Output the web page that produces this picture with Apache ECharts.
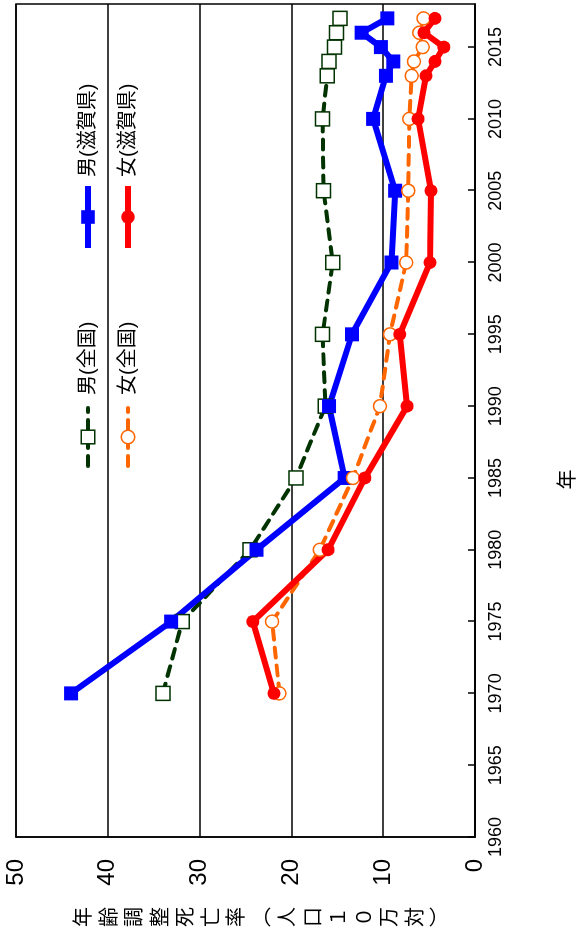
<!DOCTYPE html>
<html>
<head>
<meta charset="utf-8">
<script src="https://cdn.jsdelivr.net/npm/echarts@6/dist/echarts.min.js"></script>
<style>
  html, body { margin: 0; padding: 0; background: #fff; overflow: hidden; }
  #wrap { position: absolute; left: 0; top: 0; width: 584px; height: 940px; overflow: hidden; }
  #chart { position: absolute; left: 0; top: 0; width: 940px; height: 584px;
           transform-origin: 0 0; transform: translate(0px, 940px) rotate(-90deg); }
</style>
</head>
<body>
<div id="wrap"><div id="chart"></div></div>
<script>
const years = [1970, 1975, 1980, 1985, 1990, 1995, 2000, 2005, 2010, 2013, 2014, 2015, 2016, 2017];
const maleNational   = [34.0, 31.9, 24.5, 19.5, 16.3, 16.6, 15.5, 16.5, 16.6, 16.1, 15.9, 15.3, 15.1, 14.7];
const maleShiga      = [44.0, 33.1, 23.8, 14.2, 15.9, 13.4, 9.1, 8.7, 11.1, 9.7, 8.9, 10.25, 12.35, 9.55];
const femaleNational = [21.3, 22.1, 16.9, 13.3, 10.35, 9.26, 7.5, 7.27, 7.16, 6.9, 6.65, 5.7, 6.07, 5.6];
const femaleShiga    = [21.9, 24.2, 16.0, 12.0, 7.4, 8.2, 4.9, 4.8, 6.2, 5.34, 4.36, 3.4, 5.56, 4.36];
const seriesNames = ['男(全国)', '男(滋賀県)', '女(全国)', '女(滋賀県)'];
const xAxisName = '年';
const yAxisName = '年齢調整死亡率︵人口１０万対︶';

const FONT = '"Liberation Sans", "Noto Sans CJK JP", sans-serif';
const pair = arr => years.map((y, i) => [y, arr[i]]);

const GREEN = '#003300', BLUE = '#0000ff', ORANGE = '#ff6600', RED = '#ff0000';
const styles = [
  { symbol: 'rect', size: 14, item: { color: '#fff', borderColor: GREEN, borderWidth: 1.5 }, line: { color: GREEN, width: 4, type: [10, 8], cap: 'round' } },
  { symbol: 'rect', size: 14, item: { color: BLUE }, line: { color: BLUE, width: 6 } },
  { symbol: 'circle', size: 13, item: { color: '#fff', borderColor: ORANGE, borderWidth: 1.5 }, line: { color: ORANGE, width: 4, type: [10, 8], cap: 'round' } },
  { symbol: 'circle', size: 13, item: { color: RED }, line: { color: RED, width: 6 } }
];
const legendItem = i => ({ name: seriesNames[i], itemStyle: styles[i].item, lineStyle: styles[i].line });

const chart = echarts.init(document.getElementById('chart'), null, { renderer: 'canvas' });
chart.setOption({
  animation: false,
  backgroundColor: '#fff',
  textStyle: { fontFamily: FONT, color: '#000' },
  grid: { left: 103, right: 4, top: 16, bottom: 109, show: true, borderColor: '#000', borderWidth: 1.5, backgroundColor: 'transparent' },
  legend: [
    { data: [legendItem(0), legendItem(2)], orient: 'vertical', left: 467, top: 73,
      itemWidth: 58, itemHeight: 17, itemGap: 20,
      textStyle: { fontSize: 20, fontFamily: FONT, color: '#000', padding: [0, 0, 0, 8] } },
    { data: [legendItem(1), legendItem(3)], orient: 'vertical', left: 684, top: 73,
      itemWidth: 62, itemHeight: 17, itemGap: 20,
      textStyle: { fontSize: 20, fontFamily: FONT, color: '#000', padding: [0, 0, 0, 4] } }
  ],
  xAxis: {
    type: 'value', min: 1960, max: 2018, interval: 5,
    name: xAxisName, nameLocation: 'middle', nameGap: 83,
    nameTextStyle: { fontSize: 20, fontFamily: FONT, color: '#000', padding: [0, 118, 0, 0] },
    axisLine: { show: true, lineStyle: { color: '#000', width: 1.5 } },
    axisTick: { show: true, inside: true, length: 7, lineStyle: { color: '#000', width: 1.5 } },
    axisLabel: { fontSize: 18, color: '#000', margin: 12, showMaxLabel: false, fontFamily: FONT,
                 formatter: v => String(v) },
    splitLine: { show: false }
  },
  yAxis: {
    type: 'value', min: 0, max: 50, interval: 10,
    axisLine: { show: true, lineStyle: { color: '#000', width: 1.5 } },
    axisTick: { show: false },
    axisLabel: { fontSize: 24, color: '#000', margin: 22, fontFamily: FONT },
    splitLine: { show: true, lineStyle: { color: '#000', width: 1.5 } }
  },
  graphic: [{
    type: 'text', x: 23, y: 263, silent: true,
    style: { text: yAxisName.split('').join('\n'), fontSize: 20, lineHeight: 25.5,
             fontFamily: FONT, fill: '#000', align: 'center', verticalAlign: 'middle' }
  }],
  series: styles.map((s, i) => ({
    name: seriesNames[i], type: 'line',
    data: pair([maleNational, maleShiga, femaleNational, femaleShiga][i]),
    symbol: s.symbol, symbolSize: s.size,
    itemStyle: s.item, lineStyle: s.line,
    emphasis: { disabled: true }
  }))
});
</script>
</body>
</html>
